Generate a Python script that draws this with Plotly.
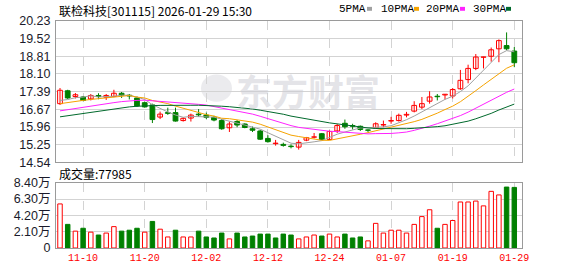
import plotly.graph_objects as go
import numpy as np
import pandas as pd

# ---------------- data ----------------
dates = ["11-05", "11-06", "11-07", "11-10", "11-11", "11-12", "11-13", "11-14", "11-17", "11-18",
         "11-19", "11-20", "11-21", "11-24", "11-25", "11-26", "11-27", "11-28", "12-01", "12-02",
         "12-03", "12-04", "12-05", "12-08", "12-09", "12-10", "12-11", "12-12", "12-15", "12-16",
         "12-17", "12-18", "12-19", "12-22", "12-23", "12-24", "12-25", "12-26", "12-29", "12-30",
         "12-31", "01-05", "01-06", "01-07", "01-08", "01-09", "01-12", "01-13", "01-14", "01-15",
         "01-16", "01-19", "01-20", "01-21", "01-22", "01-23", "01-26", "01-27", "01-28", "01-29"]

opens = [16.90, 17.42, 17.19, 17.17, 17.09, 17.23, 17.16, 17.19, 17.32, 17.24,
         17.13, 16.94, 16.85, 16.36, 16.54, 16.54, 16.22, 16.32, 16.48, 16.44,
         16.35, 16.22, 15.93, 16.18, 16.08, 15.89, 15.80, 15.50, 15.29, 15.26,
         15.19, 15.15, 15.43, 15.55, 15.69, 15.46, 15.80, 16.11, 16.02, 15.99,
         15.84, 15.92, 16.04, 16.20, 16.22, 16.44, 16.60, 16.76, 17.00, 17.20,
         17.25, 17.21, 17.50, 17.87, 18.32, 18.77, 18.81, 19.11, 19.24, 19.02]
highs = [17.53, 17.46, 17.33, 17.21, 17.29, 17.32, 17.29, 17.46, 17.37, 17.29,
         17.19, 16.98, 16.90, 16.58, 16.74, 16.74, 16.35, 16.50, 16.68, 16.54,
         16.41, 16.28, 16.18, 16.24, 16.11, 15.98, 15.84, 15.63, 15.44, 15.33,
         15.26, 15.44, 15.56, 15.72, 15.72, 15.82, 16.09, 16.26, 16.09, 16.02,
         15.86, 16.15, 16.22, 16.37, 16.50, 16.57, 17.00, 17.17, 17.40, 17.29,
         17.29, 17.53, 18.26, 18.47, 18.90, 18.79, 19.16, 19.49, 19.77, 19.18]
lows = [16.85, 17.09, 17.11, 17.00, 17.03, 17.08, 17.05, 17.16, 17.13, 17.07,
        16.77, 16.74, 16.12, 16.28, 16.45, 16.18, 16.18, 16.18, 16.37, 16.28,
        16.19, 15.85, 15.76, 15.95, 15.91, 15.76, 15.44, 15.33, 15.21, 15.17,
        15.10, 15.05, 15.39, 15.50, 15.43, 15.43, 15.72, 15.89, 15.86, 15.80,
        15.76, 15.89, 15.95, 16.09, 16.18, 16.35, 16.55, 16.68, 16.90, 17.03,
        17.07, 17.11, 17.46, 17.72, 18.25, 18.32, 18.59, 18.57, 19.05, 18.37]
closes = [17.44, 17.13, 17.26, 17.03, 17.23, 17.19, 17.23, 17.32, 17.24, 17.21,
          16.81, 16.77, 16.26, 16.48, 16.51, 16.20, 16.31, 16.44, 16.45, 16.35,
          16.24, 15.89, 16.08, 16.04, 15.94, 15.83, 15.47, 15.37, 15.31, 15.22,
          15.17, 15.34, 15.53, 15.56, 15.46, 15.78, 16.02, 15.97, 15.99, 15.86,
          15.83, 16.09, 16.06, 16.22, 16.43, 16.47, 16.83, 16.90, 17.17, 17.18,
          17.28, 17.47, 17.84, 18.32, 18.78, 18.78, 19.07, 19.44, 19.11, 18.55]
# closes of the 29 sessions before the window (estimated from where the MA lines start)
pre_closes = [15.70, 15.75, 15.80, 15.85, 15.88, 15.90, 15.95, 15.98, 16.00, 16.08,
              16.10, 16.15, 16.20, 16.25, 16.30, 16.35, 16.40, 16.42, 16.48, 16.55,
              16.62, 16.70, 16.78, 16.85, 16.90, 16.95, 16.88, 16.92, 16.96]

volumes = [5.67, 3.04, 2.17, 2.54, 2.04, 1.67, 1.92, 2.75, 2.17, 2.29,
           2.54, 2.04, 3.42, 2.42, 1.42, 2.29, 1.42, 1.42, 2.17, 1.42,
           1.29, 1.92, 1.17, 1.92, 1.42, 1.54, 1.79, 1.79, 1.29, 1.79,
           1.67, 1.17, 1.42, 1.67, 1.54, 1.79, 1.42, 1.79, 1.29, 1.42,
           0.92, 3.17, 1.92, 2.29, 2.29, 1.92, 3.04, 4.04, 4.92, 2.54,
           3.04, 3.54, 5.92, 5.92, 6.04, 5.42, 7.29, 6.83, 7.84, 7.7985]
vol_up = [1, 0, 1, 0, 1, 0, 1, 1, 0, 0,
          0, 1, 0, 1, 1, 0, 1, 1, 0, 0,
          0, 0, 1, 0, 0, 0, 0, 0, 0, 0,
          0, 1, 1, 1, 0, 1, 1, 0, 0, 0,
          1, 1, 1, 1, 1, 1, 1, 1, 1, 0,
          1, 1, 1, 1, 1, 1, 1, 1, 0, 0]

x_labels = ["11-10", "11-20", "12-02", "12-12", "12-24", "01-07", "01-19", "01-29"]
price_ticks = ["14.54", "15.25", "15.96", "16.67", "17.39", "18.10", "18.81", "19.52", "20.23"]
vol_ticks = ["0", "2.10万", "4.20万", "6.30万", "8.40万"]
ma_periods = [5, 10, 20, 30]
ma_names = ["5PMA", "10PMA", "20PMA", "30PMA"]
title_text = "联检科技[301115] 2026-01-29 15:30"
vol_text = "成交量:77985"
watermark = "东方财富"

# ---------------- styles ----------------
RED = "#ff0000"
GREEN = "#008000"
MA_COLORS = ["#a0a0a0", "#f5a300", "#ff22ff", "#00692c"]
GRID = "#d3d3d3"
FRAME = "#9a9a9a"

W, H = 578, 276
L, R, T, B = 56, 522, 21, 254


def px(x):
    return (x - L) / (R - L)


def py(y):
    return (B - y) / (B - T)


n = len(dates)
idx = np.arange(n)
o = np.array(opens); h = np.array(highs); lo = np.array(lows); c = np.array(closes)
up = c >= o

fig = go.Figure()

# wicks
for mask, col in ((up, RED), (~up, GREEN)):
    xs, ys = [], []
    for i in idx[mask]:
        xs += [i, i, None]
        ys += [lo[i], h[i], None]
    fig.add_trace(go.Scatter(x=xs, y=ys, mode="lines", line=dict(color=col, width=1),
                             hoverinfo="skip", showlegend=False, xaxis="x", yaxis="y"))

# bodies
body_base = np.minimum(o, c)
body_h = np.maximum(np.abs(c - o), 0.012)
for mask, fill, col in ((up, "white", RED), (~up, GREEN, GREEN)):
    fig.add_trace(go.Bar(x=idx[mask], y=body_h[mask], base=body_base[mask], width=0.62,
                         marker=dict(color=fill, line=dict(color=col, width=1)),
                         hoverinfo="skip", showlegend=False, xaxis="x", yaxis="y"))

# moving averages
all_close = pd.Series(pre_closes + closes)
for p, col in zip(ma_periods, MA_COLORS):
    ma = all_close.rolling(p).mean().to_numpy()[-n:]
    fig.add_trace(go.Scatter(x=idx, y=ma, mode="lines", line=dict(color=col, width=1),
                             hoverinfo="skip", showlegend=False, xaxis="x", yaxis="y"))

# volume
v = np.array(volumes); vu = np.array(vol_up, dtype=bool)
for mask, fill, col in ((vu, "white", RED), (~vu, GREEN, GREEN)):
    fig.add_trace(go.Bar(x=idx[mask], y=v[mask], width=0.58,
                         marker=dict(color=fill, line=dict(color=col, width=1)),
                         hoverinfo="skip", showlegend=False, xaxis="x2", yaxis="y2"))

tick_idx = [dates.index(d) for d in x_labels]
xr = [-0.52, 60.0]
axis_common = dict(showline=True, mirror=True, linecolor=FRAME, linewidth=1, zeroline=False)

fig.update_layout(
    width=W, height=H, autosize=False,
    margin=dict(l=L, r=W - R, t=T, b=H - B, pad=0),
    paper_bgcolor="white", plot_bgcolor="white",
    barmode="overlay", showlegend=False,
    xaxis=dict(domain=[0, 1], range=xr, tickvals=tick_idx, showticklabels=False,
               showgrid=True, gridcolor=GRID, griddash="dash", gridwidth=1, ticks="",
               anchor="y", **axis_common),
    yaxis=dict(domain=[py(166), 1], range=[float(price_ticks[0]), float(price_ticks[-1])],
               tickvals=[float(t) for t in price_ticks], ticktext=price_ticks,
               showgrid=True, gridcolor=GRID, gridwidth=1, ticks="outside", ticklen=2,
               tickcolor="rgba(0,0,0,0)",
               tickfont=dict(family="Liberation Sans, Arial", size=12.5, color="#1a1a2a"),
               anchor="x", **axis_common),
    xaxis2=dict(domain=[0, 1], range=xr, tickvals=tick_idx, ticktext=x_labels,
                showgrid=True, gridcolor=GRID, griddash="dash", gridwidth=1, ticks="",
                tickfont=dict(family="Liberation Mono, monospace", size=10, color=RED),
                anchor="y2", **axis_common),
    yaxis2=dict(domain=[0, py(187)], range=[0, float(vol_ticks[-1].replace("万", ""))],
                tickvals=[float(t.replace("万", "")) for t in vol_ticks], ticktext=vol_ticks,
                showgrid=True, gridcolor=GRID, gridwidth=1, ticks="outside", ticklen=2,
                tickcolor="rgba(0,0,0,0)",
                tickfont=dict(family="Liberation Sans, Noto Sans CJK SC", size=12.5, color="#1a1a2a"),
                anchor="x2", **axis_common),
)

ann = []
ann.append(dict(text=title_text, x=px(57), y=py(10), xref="paper", yref="paper",
                xanchor="left", yanchor="middle", showarrow=False,
                font=dict(family="Noto Sans CJK SC", size=12, color="black")))
ann.append(dict(text=vol_text, x=px(57), y=py(178), xref="paper", yref="paper",
                xanchor="left", yanchor="middle", showarrow=False,
                font=dict(family="Noto Sans CJK SC", size=12, color="black")))
ann.append(dict(text=watermark, x=px(308), y=py(92), xref="paper", yref="paper",
                xanchor="center", yanchor="middle", showarrow=False,
                font=dict(family="Noto Sans CJK SC", size=36, color="rgba(205,205,212,0.55)",
                          weight="bold")))

legend_text_x = [337, 379, 424, 471]
legend_sq_x = [367, 414, 460, 506]
shapes = []
for name, tx, sx, col in zip(ma_names, legend_text_x, legend_sq_x, MA_COLORS):
    ann.append(dict(text=name, x=px(tx), y=py(8.5), xref="paper", yref="paper",
                    xanchor="left", yanchor="middle", showarrow=False,
                    font=dict(family="Liberation Mono, monospace", size=11, color="black")))
    shapes.append(dict(type="rect", xref="paper", yref="paper",
                       x0=px(sx), x1=px(sx + 5), y0=py(10.5), y1=py(6.5),
                       fillcolor=col, line=dict(width=0)))

# watermark logo (pale leaf)
shapes.append(dict(type="circle", xref="paper", yref="paper",
                   x0=px(201), x1=px(232), y0=py(104), y1=py(76),
                   fillcolor="rgba(215,215,222,0.5)", line=dict(width=0), layer="below"))

fig.update_layout(annotations=ann, shapes=shapes)
fig.write_html("out.html")
